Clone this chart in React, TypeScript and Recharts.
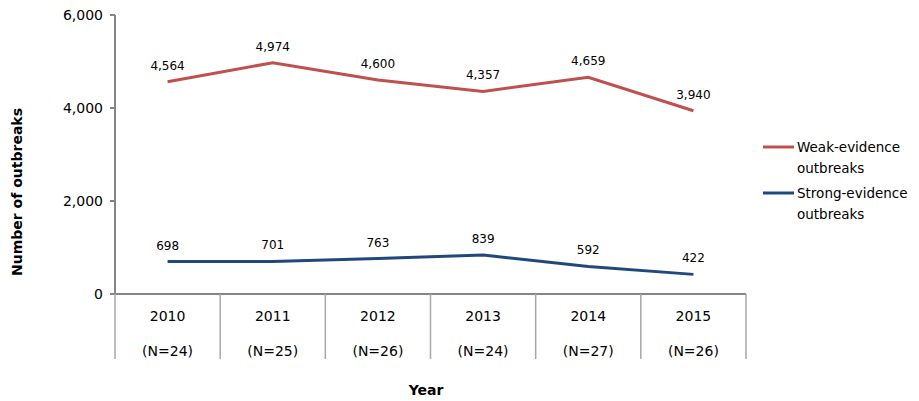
import React from 'react';
import { Customized, LabelList, Line, LineChart, XAxis, YAxis } from 'recharts';

document.body.style.margin = '0';

const years = ['2010', '2011', '2012', '2013', '2014', '2015'];
const sampleSizes = ['(N=24)', '(N=25)', '(N=26)', '(N=24)', '(N=27)', '(N=26)'];
const weakEvidence = [4564, 4974, 4600, 4357, 4659, 3940];
const strongEvidence = [698, 701, 763, 839, 592, 422];
const yTicks = [0, 2000, 4000, 6000];

const seriesInfo = [
  { key: 'weak', lines: ['Weak-evidence', 'outbreaks'], color: '#c0504d' },
  { key: 'strong', lines: ['Strong-evidence', 'outbreaks'], color: '#1f497d' },
];

const data = years.map((year, i) => ({
  year,
  n: sampleSizes[i],
  weak: weakEvidence[i],
  strong: strongEvidence[i],
}));

const FONT = '"DejaVu Sans", Verdana, sans-serif';
const AXIS_GREY = '#868686';
const fmt = (v: number) => v.toLocaleString('en-US');

function YearTick(props: any) {
  const { x, y, payload, index } = props;
  const half = payload?.offset ?? 52.6;
  const isLast = index === years.length - 1;
  return (
    <g>
      <line x1={x - half} y1={y} x2={x - half} y2={y + 65} stroke="#a6a6a6" strokeWidth={1.5} />
      {isLast && (
        <line x1={x + half} y1={y} x2={x + half} y2={y + 65} stroke="#a6a6a6" strokeWidth={1.5} />
      )}
      <text x={x} y={y + 27} textAnchor="middle" fontSize={14} fontFamily={FONT} fill="#000">
        {payload.value}
      </text>
      <text x={x} y={y + 62} textAnchor="middle" fontSize={14} fontFamily={FONT} fill="#000">
        {sampleSizes[index]}
      </text>
    </g>
  );
}

function Extras() {
  return (
    <g fontFamily={FONT}>
      <text
        x={17}
        y={192}
        transform="rotate(-90, 17, 192)"
        textAnchor="middle"
        dominantBaseline="central"
        fontSize={14}
        fontWeight="bold"
        fill="#000"
      >
        Number of outbreaks
      </text>
      <text x={426} y={395} textAnchor="middle" fontSize={14} fontWeight="bold" fill="#000">
        Year
      </text>
      {seriesInfo.map((s, i) => {
        const top = 147 + i * 46;
        return (
          <g key={s.key}>
            <line x1={763} y1={top} x2={794} y2={top} stroke={s.color} strokeWidth={3} />
            {s.lines.map((t, j) => (
              <text key={t} x={797} y={top + 5 + j * 21} fontSize={13.5} fill="#000">
                {t}
              </text>
            ))}
          </g>
        );
      })}
    </g>
  );
}

export default function App() {
  return (
    <div style={{ width: 919, height: 401, background: '#fff' }}>
      <LineChart
        width={919}
        height={401}
        data={data}
        margin={{ top: 15, right: 173, left: 0, bottom: 0 }}
      >
        <XAxis
          dataKey="year"
          scale="band"
          tickLine={false}
          tickSize={0}
          tickMargin={0}
          height={107}
          stroke={AXIS_GREY}
          strokeWidth={2}
          tick={<YearTick />}
          interval={0}
        />
        <YAxis
          domain={[0, 6000]}
          ticks={yTicks}
          width={115}
          tickFormatter={fmt}
          tickSize={5}
          tickMargin={7}
          stroke={AXIS_GREY}
          strokeWidth={2}
          tick={{ fill: '#000', fontSize: 14, fontFamily: FONT }}
        />
        <Line
          dataKey="weak"
          stroke="#c0504d"
          strokeWidth={3}
          dot={false}
          isAnimationActive={false}
        >
          <LabelList
            dataKey="weak"
            position="top"
            offset={12}
            formatter={(v: any) => fmt(Number(v))}
            style={{ fontSize: 12, fontFamily: FONT, fill: '#000' }}
          />
        </Line>
        <Line
          dataKey="strong"
          stroke="#1f497d"
          strokeWidth={3}
          dot={false}
          isAnimationActive={false}
        >
          <LabelList
            dataKey="strong"
            position="top"
            offset={12}
            formatter={(v: any) => fmt(Number(v))}
            style={{ fontSize: 12, fontFamily: FONT, fill: '#000' }}
          />
        </Line>
        <Customized component={Extras} />
      </LineChart>
    </div>
  );
}
